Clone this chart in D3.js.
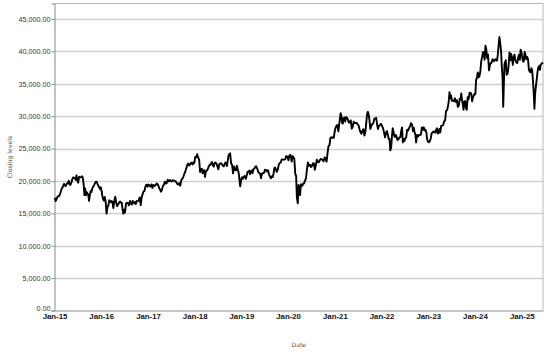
<!DOCTYPE html>
<html>
<head>
<meta charset="utf-8">
<script src="https://cdn.jsdelivr.net/npm/d3@7"></script>
<style>
  body { margin: 0; background: #fff; }
  svg { display: block; font-family: 'DejaVu Sans', sans-serif; }
</style>
</head>
<body>
<svg id="chart" width="556" height="353"></svg>
<script>
// weekly-ish closes, one inner list per month
const c2015 = [
  [17400, 16900, 17200, 17500, 17650], [17650, 17910, 18330, 18800], [18970, 19250, 19560, 19290, 19200],
  [19440, 19650, 19650, 20020, 19520], [19380, 19730, 20260, 20560], [20460, 20410, 20170, 20870, 20110],
  [19740, 20650, 20540, 20590], [20720, 20520, 19440, 17810, 18830], [17790, 18260, 18070, 17880, 16930],
  [17730, 18440, 18290, 18820, 19080], [19270, 19600, 19880, 19880], [19500, 19230, 18990, 18770, 19030]
]
const c2016 = [
  [18450, 17700, 17150, 16960, 17520], [16820, 14950, 16000, 16190], [17010, 16940, 16720, 16890, 16760],
  [15820, 16850, 17570, 16670], [16110, 16410, 16650, 16830], [16640, 16600, 15600, 14950, 15580],
  [15100, 16500, 16630, 16570], [16250, 16920, 16550, 16360], [16930, 16670, 16520, 16750, 16450],
  [16900, 16860, 16900, 17180, 17450], [16250, 17370, 17970, 18380], [18430, 18990, 19400, 19430, 19110]
]
const c2017 = [
  [19450, 19290, 19140, 19470], [18920, 19380, 19230, 19280], [19470, 19600, 19520, 19260, 18910],
  [18660, 18340, 18620, 19200], [19450, 19880, 19590, 19690], [20180, 19950, 19940, 20130, 20030],
  [19930, 20120, 20100, 19960], [19950, 19730, 19470, 19450], [19690, 19270, 19910, 20300, 20360],
  [20690, 21160, 21460, 22010], [22540, 22680, 22400, 22550], [22820, 22820, 22550, 22900, 22760]
]
const c2018 = [
  [23710, 23650, 24120, 23630], [23270, 21380, 21720, 21890], [21180, 21470, 21680, 20620, 21450],
  [21570, 21780, 22160, 22470], [22470, 22760, 22930, 22450, 22200], [22700, 22850, 22680, 22300],
  [21790, 22600, 22700, 22710], [22530, 22300, 22270, 22600, 22870], [22700, 22300, 23090, 23870, 24120],
  [24270, 22690, 22530, 21180], [22240, 21680, 21650, 22350], [21680, 21370, 20170, 19160, 20010]
]
const c2019 = [
  [20560, 20360, 20670, 20770], [20330, 20900, 21430, 21430], [21600, 21030, 21450, 21630, 21200],
  [21810, 21870, 22200, 22260], [21920, 21340, 21250, 21120], [20410, 21130, 21120, 21260, 21280],
  [21750, 21680, 21470, 21660], [21030, 20680, 20420, 20710], [20620, 21200, 22000, 22080, 21760],
  [21410, 21800, 22490, 22800], [22850, 23330, 23300, 23290], [23290, 23350, 23820, 23820, 23660]
]
const c2020 = [
  [23200, 23850, 24040, 23830, 22980], [23830, 23690, 23390, 21140], [20750, 17430, 16550, 19390, 18920],
  [17820, 19500, 19260, 19260, 19620], [19620, 20040, 20390, 21880], [22860, 22300, 22480, 22510, 22150],
  [22300, 22700, 22750, 21710], [22420, 23290, 22920, 22880], [23200, 23400, 23360, 23200],
  [23030, 23620, 23520, 22980], [24330, 25380, 25530, 26640], [26750, 26650, 26760, 26650, 27440]
]
const c2021 = [
  [28140, 28520, 28630, 27660], [28780, 29520, 30470, 30020, 28970], [28860, 29720, 29790, 29180, 29850],
  [29770, 29540, 29020, 29050], [29350, 28080, 28320, 29150], [28940, 28950, 28970, 28780],
  [28600, 27940, 27550, 27280], [27820, 27980, 27010, 27640], [29130, 30380, 30670, 30250, 29450],
  [28050, 28500, 28800, 28890], [29610, 29610, 29750, 28750], [28030, 28440, 28550, 28780, 28790]
]
const c2022 = [
  [28480, 28120, 27520, 26720], [27440, 27700, 27120, 26480], [26530, 24720, 25160, 26830, 28150],
  [27660, 26990, 26800, 27110, 26850], [26320, 26430, 26740, 26780], [27760, 28250, 25960, 26490, 26150],
  [26520, 26790, 27910, 27800], [28180, 28550, 28930, 28640], [27650, 28210, 27570, 27150, 25940],
  [27120, 26880, 27090, 27100], [27200, 28260, 27900, 28280], [27780, 27900, 27530, 26500, 26090]
]
const c2023 = [
  [25970, 26120, 26550, 27380], [27510, 27670, 27510, 27450], [27930, 28140, 27330, 27380, 28040],
  [27520, 28490, 28560, 28620], [29160, 29390, 30800, 30920], [31520, 32260, 33710, 32780, 33190],
  [32390, 32390, 32300, 32760], [32190, 32470, 31450, 31620], [32710, 32600, 33530, 32400, 31860],
  [30990, 32320, 32320, 31260, 30990], [32950, 32590, 33590, 33630], [33430, 32300, 32970, 33170, 33460]
]
const c2024 = [
  [33380, 35580, 35960, 36750, 36000], [36160, 36900, 38490, 39100], [39910, 39690, 38710, 40890, 40370],
  [38990, 39520, 37070, 37930], [38240, 38230, 38790, 38650, 38490], [38700, 38810, 38600, 38600, 39580],
  [40910, 42220, 41190, 40060, 37670], [35910, 31460, 35020, 38060, 38360, 38650], [36390, 36580, 37720, 39830],
  [38630, 39600, 38980, 37910, 39080], [39500, 38640, 38280, 38210], [39090, 39470, 38700, 40280, 39890]
]
const c2025 = [
  [39190, 38450, 38450, 39930, 39570], [38790, 39150, 38780, 37150], [36890, 36790, 37400, 37120, 35620],
  [33780, 31140, 33590, 34730, 35700], [36830, 37500, 37750, 37160, 37970], [38300]
]
const yearLists = [
  [2015, c2015], [2016, c2016], [2017, c2017], [2018, c2018], [2019, c2019], [2020, c2020],
  [2021, c2021], [2022, c2022], [2023, c2023], [2024, c2024], [2025, c2025]
]
const yTicks = [0, 5000, 10000, 15000, 20000, 25000, 30000, 35000, 40000, 45000]
const xTickYears = [2015, 2016, 2017, 2018, 2019, 2020, 2021, 2022, 2023, 2024, 2025]

// spread each month's values across the month
const points = []
yearLists.forEach(([yr, months]) => {
  months.forEach((vals, m) => {
    const dim = new Date(yr, m + 1, 0).getDate()
    vals.forEach((v, j) => {
      const day = Math.round(1 + (j + 0.5) * dim / vals.length)
      points.push({ date: new Date(yr, m, day), value: v })
    })
  })
})

const plotLeft = 54.5, plotRight = 543, plotTop = 3.5, plotBottom = 310.5

const svg = d3.select('#chart')

const x = d3.scaleTime()
  .domain([new Date(2015, 0, 1), d3.max(points, d => d.date)])
  .range([plotLeft, plotRight])

const y = d3.scaleLinear()
  .domain([0, 47400])
  .range([plotBottom, plotTop])

// grid
svg.append('g')
  .selectAll('line')
  .data(yTicks.slice(1))
  .enter().append('line')
  .attr('x1', plotLeft).attr('x2', plotRight)
  .attr('y1', d => Math.round(y(d)) + 0.5).attr('y2', d => Math.round(y(d)) + 0.5)
  .attr('stroke', '#cfcfcf')
  .attr('stroke-width', 1.3)

// frame top/right
svg.append('path')
  .attr('d', `M${plotLeft},${plotTop}H${plotRight}V${plotBottom}`)
  .attr('fill', 'none')
  .attr('stroke', '#b8b8b8')
  .attr('stroke-width', 1)

// y axis
const yAxis = svg.append('g')
  .attr('transform', `translate(${plotLeft},0)`)
  .call(d3.axisLeft(y).tickValues(yTicks).tickFormat(d3.format(',.2f')).tickSize(3).tickPadding(1))
yAxis.select('.domain').attr('stroke', '#8a8a8a')
yAxis.selectAll('.tick line').attr('stroke', '#8a8a8a')
yAxis.selectAll('text')
  .style('font-size', '7.2px')
  .attr('fill', '#333')
// the zero label sits just above the date labels
yAxis.selectAll('.tick text').filter(d => d === 0).attr('dy', '-0.05em')

// x axis
const xAxis = svg.append('g')
  .attr('transform', `translate(0,${plotBottom})`)
  .call(d3.axisBottom(x)
    .tickValues(xTickYears.map(yr => new Date(yr, 0, 1)))
    .tickFormat(d3.timeFormat('%b-%y'))
    .tickSize(0).tickPadding(3))
xAxis.select('.domain').attr('stroke', '#8a8a8a')
xAxis.selectAll('text')
  .style('font-size', '7.8px')
  .style('font-weight', 'bold')
  .attr('fill', '#111')

// line
const line = d3.line()
  .x(d => x(d.date))
  .y(d => y(d.value))

svg.append('path')
  .datum(points)
  .attr('d', line)
  .attr('fill', 'none')
  .attr('stroke', '#000')
  .attr('stroke-width', 1.9)
  .attr('stroke-linejoin', 'round')

// axis titles
svg.append('text')
  .attr('x', (plotLeft + plotRight) / 2)
  .attr('y', 347)
  .attr('text-anchor', 'middle')
  .style('font-size', '6px')
  .attr('fill', '#555')
  .text('Date')

svg.append('text')
  .attr('transform', `translate(10,${(plotTop + plotBottom) / 2}) rotate(-90)`)
  .attr('text-anchor', 'middle')
  .attr('dy', '0.35em')
  .style('font-size', '6.2px')
  .attr('fill', '#555')
  .text('Closing levels')
</script>
</body>
</html>
